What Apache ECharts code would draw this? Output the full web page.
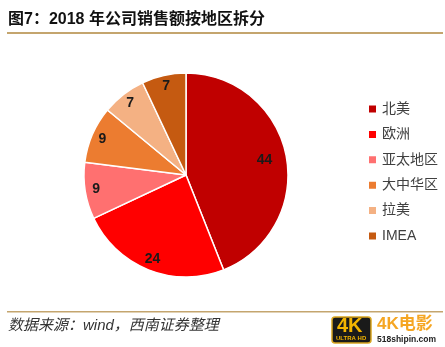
<!DOCTYPE html>
<html>
<head>
<meta charset="utf-8">
<script src="https://cdn.jsdelivr.net/npm/echarts@6/dist/echarts.min.js"></script>
<style>html,body{margin:0;padding:0;background:#fff;}#c{width:445px;height:347px;}</style>
</head>
<body>
<div id="c"></div>
<script>
var categories = ['北美', '欧洲', '亚太地区', '大中华区', '拉美', 'IMEA'];
var values = [44, 24, 9, 9, 7, 7];
var colors = ['#C00000', '#FF0000', '#FF7070', '#EC7C30', '#F4B183', '#C55A11'];

var chart = echarts.init(document.getElementById('c'), null, {renderer: 'canvas'});
var FONT = '"Liberation Sans", "Noto Sans CJK SC", sans-serif';

function mainData() {
  return categories.map(function (n, i) {
    return {name: n, value: values[i], itemStyle: {color: colors[i]}};
  });
}
function labelData(showIdx) {
  return categories.map(function (n, i) {
    return {name: n, value: values[i], label: {show: showIdx(i)}};
  });
}
var labelStyle = {position: 'inside', formatter: '{c}', color: '#1a1a1a', fontSize: 14, fontWeight: 'bold', fontFamily: FONT};

chart.setOption({
  animation: false,
  backgroundColor: '#fff',
  legend: {
    orient: 'vertical',
    left: 367,
    top: 102,
    padding: 0,
    itemWidth: 9,
    itemHeight: 9,
    itemGap: 11.4,
    icon: 'rect',
    selectedMode: false,
    textStyle: {fontSize: 14, lineHeight: 14, color: '#404040', fontFamily: FONT},
    data: categories.map(function (n, i) { return {name: n, itemStyle: {color: colors[i]}}; })
  },
  graphic: [
    {type: 'text', left: 8, top: 12, style: {text: '图7：2018 年公司销售额按地区拆分', font: 'bold 16px "Liberation Sans", "Noto Sans CJK SC", sans-serif', fill: '#111'}},
    {type: 'rect', shape: {x: 7, y: 32, width: 436, height: 2}, style: {fill: '#C4A56E'}},
    {type: 'rect', shape: {x: 7, y: 311, width: 436, height: 1.5}, style: {fill: '#C4A56E'}},
    {type: 'text', left: 8, top: 318, style: {text: '数据来源：wind，西南证券整理', font: 'italic 15px "Liberation Sans", "Noto Sans CJK SC", sans-serif', fill: '#333'}},
    {type: 'rect', shape: {x: 332, y: 317, width: 39, height: 26, r: 3}, style: {fill: '#1a1a1a', stroke: '#D9A520', lineWidth: 1.5}},
    {type: 'text', left: 337, top: 316, style: {text: '4K', font: 'bold 20px "Liberation Sans", sans-serif', fill: '#F2B400'}},
    {type: 'text', left: 336, top: 335, style: {text: 'ULTRA HD', font: 'bold 6px "Liberation Sans", sans-serif', fill: '#F2B400'}},
    {type: 'text', left: 377, top: 316, style: {text: '4K电影', font: 'bold 17px "Liberation Sans", "Noto Sans CJK SC", sans-serif', fill: '#F5A623'}},
    {type: 'text', left: 377, top: 335, style: {text: '518shipin.com', font: 'bold 8.5px "Liberation Sans", sans-serif', fill: '#222'}}
  ],
  series: [
    {
      type: 'pie',
      name: 'main',
      center: [186, 175],
      radius: [0, 102],
      startAngle: 90,
      clockwise: true,
      label: {show: false},
      labelLine: {show: false},
      itemStyle: {borderColor: '#fff', borderWidth: 1.5},
      emphasis: {disabled: true},
      data: mainData()
    },
    {
      type: 'pie',
      name: 'lab1',
      center: [186, 175],
      radius: [64, 90],
      startAngle: 90,
      silent: true,
      itemStyle: {color: 'rgba(0,0,0,0)'},
      label: labelStyle,
      labelLine: {show: false},
      emphasis: {disabled: true},
      data: labelData(function (i) { return i === 0; })
    },
    {
      type: 'pie',
      name: 'lab2',
      center: [186, 175],
      radius: [76, 100],
      startAngle: 90,
      silent: true,
      itemStyle: {color: 'rgba(0,0,0,0)'},
      label: labelStyle,
      labelLine: {show: false},
      emphasis: {disabled: true},
      data: labelData(function (i) { return i !== 0; })
    }
  ]
});
</script>
</body>
</html>
